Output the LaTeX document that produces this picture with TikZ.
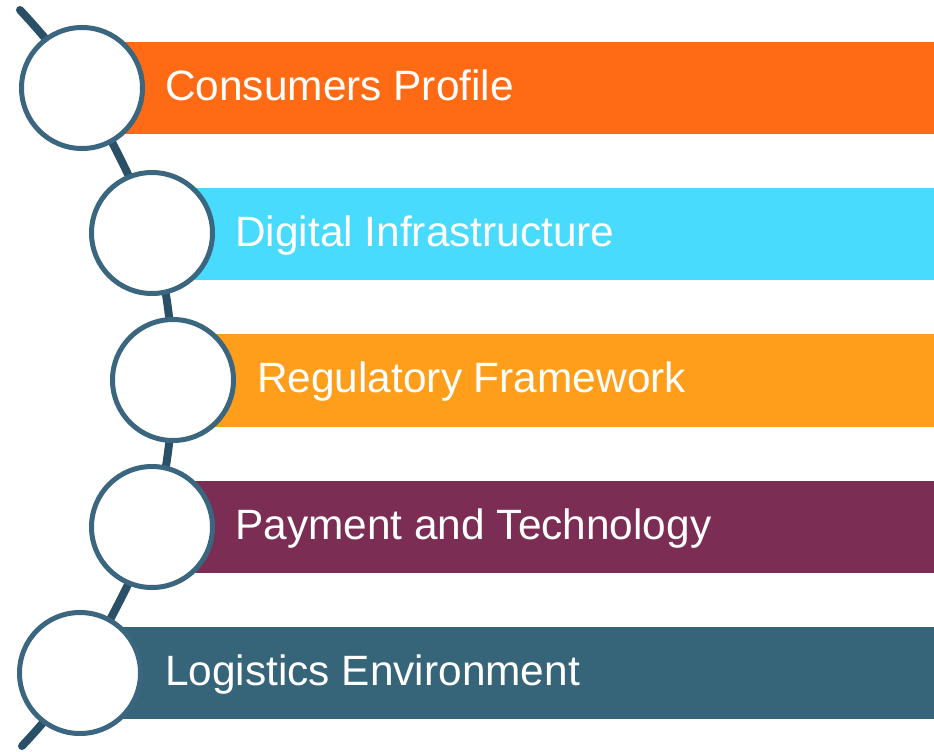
\documentclass[tikz,border=0pt]{standalone}
\usepackage{fontspec}
\setmainfont{Liberation Sans}
\begin{document}
\begin{tikzpicture}[x=1pt,y=-1pt,
  ring/.style={circle, draw=ringc, line width=5pt, fill=white, minimum size=121pt, inner sep=0pt},
  lbl/.style={text=white, font=\fontsize{42.4}{48}\selectfont, anchor=base west, inner sep=0pt},
  spine/.style={draw=linec, line width=8pt, line cap=round}]
\definecolor{ringc}{HTML}{3A6680}
\definecolor{linec}{HTML}{2A5068}
\definecolor{c1}{HTML}{FF6B15}
\definecolor{c2}{HTML}{48DBFD}
\definecolor{c3}{HTML}{FF9E1B}
\definecolor{c4}{HTML}{7B2D54}
\definecolor{c5}{HTML}{366479}
\useasboundingbox (0,0) rectangle (934,752);
% bars
\fill[c1] (100,42) rectangle (934,134);
\fill[c2] (150,188) rectangle (934,280);
\fill[c3] (170,334) rectangle (934,427);
\fill[c4] (150,481) rectangle (934,573);
\fill[c5] (100,627) rectangle (934,719);
% spine
\coordinate (s0) at (20,10);
\coordinate (s6) at (22,746);
\draw[spine] plot[smooth, tension=0.55] coordinates {(20,10) (82,88) (152,233) (173,380) (152,527) (80,673) (22,746)};
% rings
\node[ring] (r1) at (82,88) {};
\node[ring] (r2) at (152,233) {};
\node[ring] (r3) at (173,380) {};
\node[ring] (r4) at (152,527) {};
\node[ring] (r5) at (80,673) {};
% labels
\node[lbl] (t1) at (165,100) {Consumers Profile};
\node[lbl] (t2) at (235,246) {Digital Infrastructure};
\node[lbl] (t3) at (257,392) {Regulatory Framework};
\node[lbl] (t4) at (235,539) {Payment and Technology};
\node[lbl] (t5) at (165,685) {Logistics Environment};
\end{tikzpicture}
\end{document}
